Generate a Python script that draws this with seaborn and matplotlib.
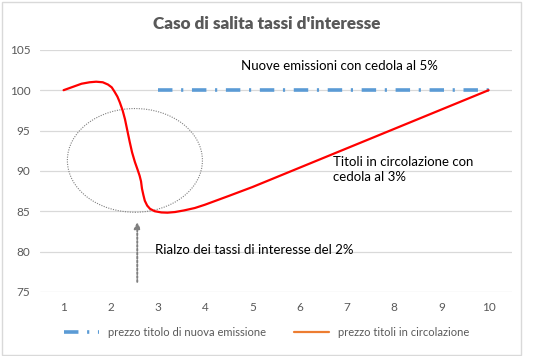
import numpy as np
import pandas as pd
import matplotlib
matplotlib.use("Agg")
import matplotlib.pyplot as plt
import seaborn as sns
from matplotlib.lines import Line2D
from matplotlib.patches import Ellipse

# data
x_new = [3, 4, 5, 6, 7, 8, 9, 10]
y_new = [100, 100, 100, 100, 100, 100, 100, 100]

x_old = [1.0, 1.2, 1.38, 1.55, 1.69, 1.83, 1.94, 2.02, 2.08, 2.14, 2.19, 2.25, 2.30, 2.35,
         2.40, 2.45, 2.51, 2.57, 2.61, 2.64, 2.66, 2.69, 2.72, 2.77, 2.83, 2.93, 3.07,
         3.2, 3.36, 3.55, 3.78, 3.99, 4.5, 5, 5.5, 6, 7, 8, 9, 10]
y_old = [100.0, 100.42, 100.8, 100.98, 101.05, 100.98, 100.7, 100.35, 99.8, 99.2, 98.5,
         97.5, 96.4, 95.0, 93.6, 92.3, 91.1, 90.1, 89.4, 88.7, 87.8, 87.0, 86.3, 85.7,
         85.3, 85.0, 84.85, 84.82, 84.9, 85.1, 85.4, 85.8, 86.9, 88.0, 89.2, 90.4,
         92.8, 95.2, 97.6, 100.0]

x_ticks = [1, 2, 3, 4, 5, 6, 7, 8, 9, 10]
y_ticks = [75, 80, 85, 90, 95, 100, 105]

title = "Caso di salita tassi d'interesse"
lbl_new = "prezzo titolo di nuova emissione"
lbl_old = "prezzo titoli in circolazione"

df_new = pd.DataFrame({"x": x_new, "y": y_new})
df_old = pd.DataFrame({"x": x_old, "y": y_old})

sns.set_style("white")
plt.rcParams['font.family'] = ['Lato', 'DejaVu Sans']

fig = plt.figure(figsize=(5.33, 3.56), dpi=100)
ax = fig.add_axes([0.075, 0.18, 0.886, 0.68])

sns.lineplot(data=df_new, x="x", y="y", ax=ax, color="#5B9BD5", lw=2.6,
             dashes=False, legend=False)
ax.lines[-1].set_dashes([4, 2.4, 0.6, 2.4])
sns.lineplot(data=df_old, x="x", y="y", ax=ax, color="#FF0000", lw=1.6,
             legend=False, sort=False)
ax.lines[-1].set_solid_joinstyle("round")

ax.set_xlim(0.5, 10.5)
ax.set_ylim(75, 105)
ax.set_xticks(x_ticks)
ax.set_yticks(y_ticks)
ax.set_xlabel("")
ax.set_ylabel("")
ax.grid(axis="y", color="#D9D9D9", lw=0.9)
ax.grid(axis="x", visible=False)
for s in ax.spines.values():
    s.set_visible(False)
ax.tick_params(axis="both", colors="#595959", labelsize=8.5, length=0, pad=7)

# annotations
ax.add_patch(Ellipse((2.51, 91.3), 2.86, 12.85, fill=False, ls=(0, (1, 1.2)),
                     lw=0.8, ec="#7F7F7F"))
ax.annotate("", xy=(2.56, 84.0), xytext=(2.56, 75.9),
            arrowprops=dict(arrowstyle="-|>", ls=(0, (1, 1)), lw=1.4,
                            color="#7F7F7F", mutation_scale=9))
ax.text(4.76, 103.0, "Nuove emissioni con cedola al 5%", fontsize=9.5,
        va="center", ha="left", color="black")
ax.text(6.71, 91.9, "Titoli in circolazione con\ncedola al 3%", fontsize=9.5,
        va="top", ha="left", color="black", linespacing=1.35)
ax.text(2.93, 80.2, "Rialzo dei tassi di interesse del 2%", fontsize=9.5,
        va="center", ha="left", color="black")

fig.suptitle(title, x=0.5, y=0.955, fontsize=12.3, fontweight="heavy", color="#595959")

handles = [Line2D([], [], color="#5B9BD5", lw=2.6, dashes=[4, 2.4, 0.6, 2.4, 0.6, 2.4]),
           Line2D([], [], color="#ED7D31", lw=1.6)]
fig.legend(handles, [lbl_new, lbl_old], loc="center", bbox_to_anchor=(0.5, 0.065),
           ncol=2, frameon=False, fontsize=8, labelcolor="#595959",
           handlelength=3.2, columnspacing=2.5)

fig.patches.append(plt.Rectangle((0.003, 0.003), 0.975, 0.99, transform=fig.transFigure,
                                 fill=False, ec="#D9D9D9", lw=1))

fig.savefig("out.png", dpi=100)
